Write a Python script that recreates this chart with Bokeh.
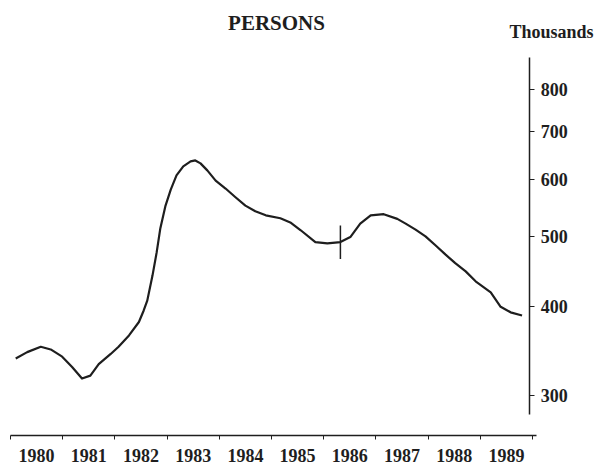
from bokeh.plotting import figure
from bokeh.models import LinearAxis, LogAxis, FixedTicker, Range1d, Label, ColumnDataSource
from bokeh.embed import file_html
from bokeh.resources import INLINE

# ---- data ----
years = [1980.10, 1980.32, 1980.58, 1980.77, 1980.99, 1981.18, 1981.37, 1981.53,
         1981.69, 1981.92, 1982.07, 1982.27, 1982.46, 1982.55, 1982.62, 1982.72,
         1982.80, 1982.87, 1982.97, 1983.07, 1983.18, 1983.31, 1983.45, 1983.54,
         1983.64, 1983.77, 1983.93, 1984.12, 1984.31, 1984.50, 1984.69, 1984.89,
         1985.17, 1985.36, 1985.56, 1985.84, 1986.07, 1986.32, 1986.51, 1986.70,
         1986.90, 1987.15, 1987.41, 1987.57, 1987.76, 1987.95, 1988.14, 1988.33,
         1988.52, 1988.72, 1988.91, 1989.20, 1989.39, 1989.58, 1989.80]
persons = [338, 345, 351, 348, 340, 329, 317, 320,
           332, 343, 351, 364, 380, 394, 407, 441,
           475, 513, 552, 581, 608, 626, 636, 638,
           632, 618, 598, 583, 567, 552, 542, 535,
           530, 523, 510, 491, 489, 491, 499, 521,
           535, 537, 529, 521, 511, 500, 486, 472,
           459, 447, 433, 418, 399, 392, 388]

break_year = [1986.32]
break_low = [465]
break_high = [518]

year_bounds = list(range(1980, 1991))
year_mid = [1980.5, 1981.5, 1982.5, 1983.5, 1984.5, 1985.5, 1986.5, 1987.5, 1988.5, 1989.5]
year_labels = ["1980", "1981", "1982", "1983", "1984", "1985", "1986", "1987", "1988", "1989"]
value_ticks = [300, 400, 500, 600, 700, 800]
value_labels = ["300", "400", "500", "600", "700", "800"]

INK = "#1e1e1e"
FONT = "Liberation Serif"


def x_at(px):
    return 1980 + (px - 10) / 52.2


def y_at(py):
    return 10 ** (2.71743 - (py - 222.68) / 718)


p = figure(frame_width=596, frame_height=435,
           min_border_left=0, min_border_right=0, min_border_top=0, min_border_bottom=32,
           x_range=Range1d(x_at(0), x_at(596)), y_range=Range1d(y_at(435), y_at(0)),
           y_axis_type="log", x_axis_location=None, y_axis_location=None,
           output_backend="svg", toolbar_location=None)
p.outline_line_color = None
p.xgrid.visible = False
p.ygrid.visible = False
p.background_fill_color = "white"
p.border_fill_color = "white"

src = ColumnDataSource(dict(year=years, persons=persons))
p.line("year", "persons", source=src, line_color=INK, line_width=2.2, line_join="round")
p.segment(x0=break_year, y0=break_low, x1=break_year, y1=break_high,
          line_color=INK, line_width=1.5)

# bottom axis: tick marks at year boundaries, labels centred in each year
xax = LinearAxis(ticker=FixedTicker(ticks=year_mid, minor_ticks=year_bounds),
                 bounds=(1980, x_at(536)))
xax.major_label_overrides = {m: l for m, l in zip(year_mid, year_labels)}
xax.major_tick_out = 0
xax.major_tick_in = 0
xax.minor_tick_out = 4
xax.minor_tick_in = 0
xax.minor_tick_line_color = INK
xax.axis_line_color = INK
xax.axis_line_width = 1.5
xax.major_label_standoff = 9
xax.major_label_text_font = FONT
xax.major_label_text_font_style = "bold"
xax.major_label_text_font_size = "18px"
xax.major_label_text_color = INK
p.add_layout(xax, "below")

# right axis (log scale), drawn at a fixed place inside the frame
yax = LogAxis(ticker=FixedTicker(ticks=value_ticks), fixed_location=x_at(529.3),
              bounds=(y_at(414), y_at(57)))
yax.major_label_overrides = {v: l for v, l in zip(value_ticks, value_labels)}
yax.major_tick_out = 5
yax.major_tick_in = 0
yax.minor_tick_out = 0
yax.minor_tick_in = 0
yax.major_tick_line_color = INK
yax.axis_line_color = INK
yax.axis_line_width = 1.5
yax.major_label_standoff = 6
yax.major_label_text_font = FONT
yax.major_label_text_font_style = "bold"
yax.major_label_text_font_size = "18px"
yax.major_label_text_color = INK
p.add_layout(yax, "right")

p.add_layout(Label(x=x_at(276), y=y_at(22), text="PERSONS", text_align="center",
                   text_baseline="alphabetic", text_font=FONT, text_font_style="bold",
                   text_font_size="21px", text_color=INK))
p.add_layout(Label(x=x_at(509), y=y_at(31), text="Thousands", text_align="left",
                   text_baseline="alphabetic", text_font=FONT, text_font_style="bold",
                   text_font_size="18px", text_color=INK))

open("out.html", "w").write(file_html(p, INLINE))
